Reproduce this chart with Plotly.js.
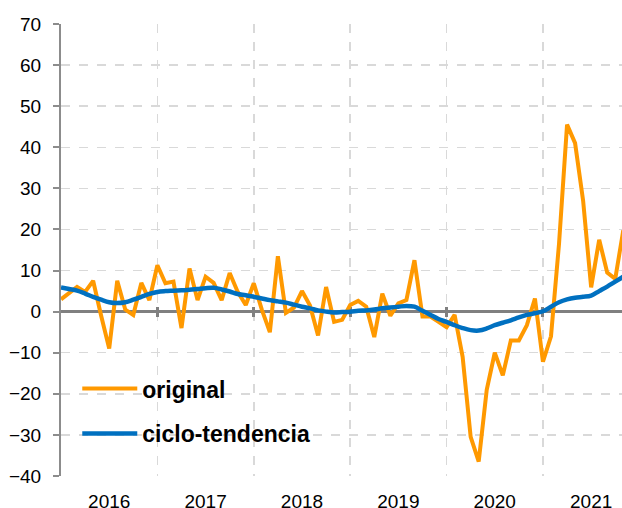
<!DOCTYPE html>
<html>
<head>
<meta charset="utf-8">
<script src="https://cdn.plot.ly/plotly-3.0.1.min.js"></script>
<style>html,body{margin:0;padding:0;background:#fff;}#chart{width:622px;height:508px;}</style>
</head>
<body>
<div id="chart"></div>
<script>
// Year labels (x axis) — monthly data starting January 2016
var years = ['2016', '2017', '2018', '2019', '2020', '2021'];

// Month index for each observation (0 = Jan 2016)
var monthIndex = [];
for (var m = 0; m <= 70; m++) monthIndex.push(m);

// original series (monthly)
var original = [
  3, 4.4, 6, 4.8, 7.5, -1, -9, 7.5, 0.5, -0.8, 7, 2.8,
  11.3, 6.9, 7.3, -4, 10.5, 2.8, 8.5, 7, 2.8, 9.4, 4.8, 1.6,
  6.9, 0.5, -5, 13.5, -0.3, 1, 5, 1.5, -5.8, 6, -2.5, -2,
  1.6, 2.6, 1.2, -6.2, 4.4, -1, 2, 2.8, 12.5, -1.2, -1.2, -2.5,
  -3.8, -0.8, -11, -30.5, -36.5, -19, -10, -15.5, -7, -7, -3.3, 3.2,
  -12.2, -6, 16.5, 45.5, 41, 27, 5.9, 17.5, 9.5, 8, 19.8
];

// ciclo-tendencia series (monthly)
var trend = [
  5.9, 5.5, 5.1, 4.4, 3.6, 2.9, 2.3, 2.1, 2.3, 2.9, 3.6, 4.3,
  4.8, 5.0, 5.1, 5.2, 5.3, 5.5, 5.7, 5.8, 5.4, 4.9, 4.3, 4.0,
  3.6, 3.2, 2.8, 2.5, 2.2, 1.7, 1.2, 0.8, 0.3, 0.0, -0.2, -0.1,
  0.0, 0.2, 0.3, 0.5, 0.8, 1.0, 1.2, 1.4, 1.2, 0.2, -0.8, -1.8,
  -2.5, -3.3, -4.0, -4.5, -4.6, -4.1, -3.3, -2.7, -2.1, -1.4, -0.8, -0.4,
  0.1, 1.2, 2.3, 3.0, 3.4, 3.6, 3.9, 5.0, 6.1, 7.3, 8.5
];

var yearTickVals = years.map(function (y, i) { return i * 12 + 6; });
var yearBounds = years.map(function (y, i) { return i * 12; });

var font = 'Liberation Sans, Arial, sans-serif';

var traces = [
  {
    x: monthIndex, y: original, type: 'scatter', mode: 'lines',
    name: 'original', legendgroup: 'a',
    line: {color: '#FF9900', width: 4, shape: 'linear'},
    hoverinfo: 'skip'
  },
  {
    x: monthIndex, y: trend, type: 'scatter', mode: 'lines',
    name: 'ciclo-tendencia', legendgroup: 'b',
    line: {color: '#0070C0', width: 4.5, shape: 'spline', smoothing: 1},
    hoverinfo: 'skip'
  },
  {
    x: [0], y: [null], xaxis: 'x2', yaxis: 'y', type: 'scatter', mode: 'lines',
    showlegend: false, hoverinfo: 'skip'
  }
];

var layout = {
  width: 622, height: 508,
  margin: {l: 61, r: 0, t: 24, b: 32},
  paper_bgcolor: '#ffffff', plot_bgcolor: '#ffffff',
  font: {family: font, color: '#000000', size: 19},
  showlegend: true,
  legend: {
    x: 0.029, xanchor: 'left', y: 0.241, yanchor: 'top',
    bgcolor: 'rgba(0,0,0,0)', borderwidth: 0,
    font: {family: font, size: 23, color: '#000000', weight: 'bold'},
    tracegroupgap: 12, itemwidth: 55
  },
  xaxis: {
    range: [0, 69.84],
    tickmode: 'array', tickvals: yearTickVals, ticktext: years,
    ticks: '', showgrid: false, zeroline: false, showline: false,
    ticklabelstandoff: 12,
    tickfont: {family: font, size: 19, color: '#000000'},
    minor: {
      tickmode: 'array', tickvals: yearBounds.slice(1),
      showgrid: true, gridcolor: '#d9d9d9', gridwidth: 1.5, griddash: 'dash', ticks: ''
    }
  },
  xaxis2: {
    overlaying: 'x', matches: 'x', anchor: 'free', position: 0.3526, side: 'bottom',
    tickmode: 'array', tickvals: yearBounds, showticklabels: false,
    ticks: 'inside', ticklen: 10, tickwidth: 3, tickcolor: '#808080',
    showgrid: false, zeroline: false, showline: false, layer: 'below traces'
  },
  yaxis: {
    range: [-40, 70], dtick: 10, tick0: 0,
    showgrid: true, gridcolor: '#d9d9d9', gridwidth: 1.5, griddash: 'dash',
    zeroline: true, zerolinecolor: '#808080', zerolinewidth: 3,
    showline: true, linecolor: '#8c8c8c', linewidth: 2,
    ticks: 'outside', ticklen: 6, tickwidth: 2, tickcolor: '#8c8c8c',
    ticklabelstandoff: 8,
    tickfont: {family: font, size: 19, color: '#000000'}
  }
};

Plotly.newPlot('chart', traces, layout, {staticPlot: true, displayModeBar: false});
</script>
</body>
</html>
